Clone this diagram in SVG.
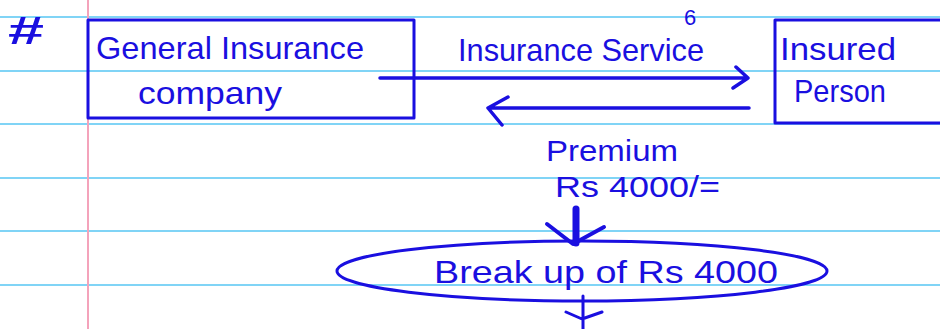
<svg xmlns="http://www.w3.org/2000/svg" width="940" height="329" viewBox="0 0 940 329">
  <style>
    .rule { stroke: #80d4f6; stroke-width: 2; }
    .margin { stroke: #f4a3bb; stroke-width: 2; }
    .ink { fill: none; stroke: #1a0fe0; stroke-linecap: round; stroke-linejoin: round; }
    .hand { fill: #1a0fe0; font-family: "Liberation Sans", "DejaVu Sans", sans-serif; }
  </style>

  <!-- ruled paper -->
  <rect width="940" height="329" fill="#ffffff"/>
  <g id="paper">
    <line class="rule" x1="0" y1="17" x2="940" y2="17"/>
    <line class="rule" x1="0" y1="71" x2="940" y2="71"/>
    <line class="rule" x1="0" y1="124" x2="940" y2="124"/>
    <line class="rule" x1="0" y1="178" x2="940" y2="178"/>
    <line class="rule" x1="0" y1="231" x2="940" y2="231"/>
    <line class="rule" x1="0" y1="285" x2="940" y2="285"/>
    <line class="margin" x1="88" y1="0" x2="88" y2="329"/>
  </g>

  <text id="hash" class="hand" x="8" y="44" font-size="38" font-weight="bold" textLength="36" lengthAdjust="spacingAndGlyphs">#</text>

  <!-- nodes -->
  <g id="node-company">
    <rect class="ink" x="88" y="20" width="326" height="98" stroke-width="3"/>
    <text class="hand" x="96" y="59" font-size="32" textLength="268" lengthAdjust="spacingAndGlyphs">General Insurance</text>
    <text class="hand" x="138" y="104" font-size="32" textLength="144" lengthAdjust="spacingAndGlyphs">company</text>
  </g>

  <g id="node-insured">
    <rect class="ink" x="775" y="20" width="175" height="103" stroke-width="3"/>
    <text class="hand" x="780" y="60" font-size="32" textLength="116" lengthAdjust="spacingAndGlyphs">Insured</text>
    <text class="hand" x="794" y="102" font-size="32" textLength="92" lengthAdjust="spacingAndGlyphs">Person</text>
  </g>

  <g id="node-breakup">
    <ellipse class="ink" cx="582" cy="271" rx="245" ry="30" stroke-width="3"/>
    <text class="hand" x="434" y="283" font-size="32" textLength="344" lengthAdjust="spacingAndGlyphs">Break up of Rs 4000</text>
  </g>

  <!-- connectors -->
  <g id="connectors">
    <!-- service to the insured -->
    <path class="ink" stroke-width="3.5" d="M380 78 H748 M736 67 L748 78 L733 88"/>
    <text class="hand" x="458" y="61" font-size="32" textLength="246" lengthAdjust="spacingAndGlyphs">Insurance Service</text>
    <text class="hand" x="684" y="25" font-size="22">6</text>
    <!-- premium back to the company -->
    <path class="ink" stroke-width="3.5" d="M749 108 H488 M508 97 L488 108 L502 125"/>
    <text class="hand" x="546" y="161" font-size="29" textLength="132" lengthAdjust="spacingAndGlyphs">Premium</text>
    <text class="hand" x="555" y="197" font-size="29" textLength="165" lengthAdjust="spacingAndGlyphs">Rs 4000/=</text>
    <!-- premium into the break up -->
    <path class="ink" stroke-width="7" d="M576 209 V243"/>
    <path class="ink" stroke-width="4" d="M547 224 L573 244 L604 227"/>
    <!-- break up continues below -->
    <path class="ink" stroke-width="3" d="M583 296 V329 M566 312 L582 319 L602 312"/>
  </g>
</svg>
